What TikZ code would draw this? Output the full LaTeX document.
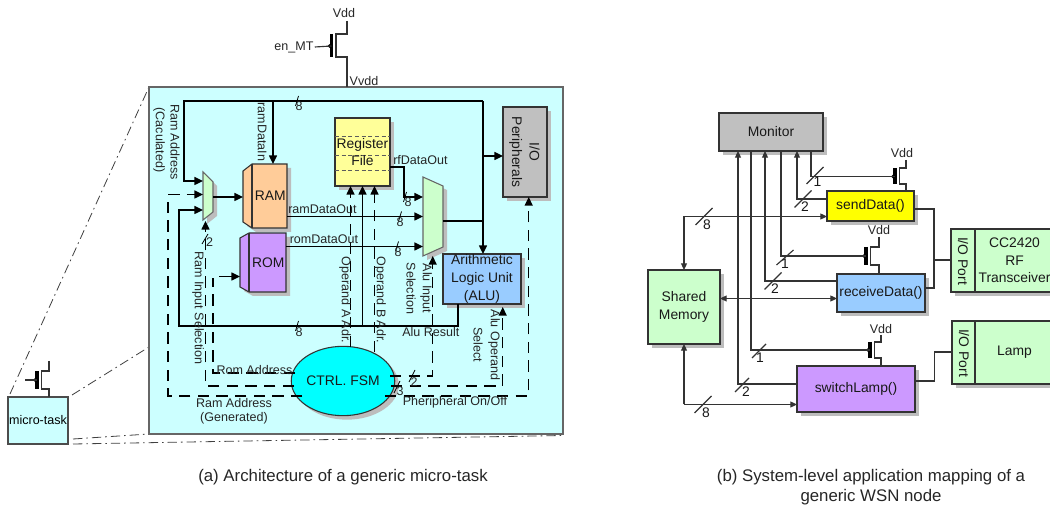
\documentclass[tikz,border=0pt]{standalone}
\usepackage{fontspec}
\setmainfont{Liberation Sans}
\usetikzlibrary{arrows.meta,calc,shapes.geometric}
\definecolor{cyanbg}{HTML}{CCFFFF}
\definecolor{fsmcyan}{HTML}{00FFFF}
\definecolor{sendy}{HTML}{FFFF00}
\definecolor{mint}{HTML}{CCFFCC}
\definecolor{peach}{HTML}{FFCC99}
\definecolor{lilac}{HTML}{CC99FF}
\definecolor{skyb}{HTML}{99CCFF}
\definecolor{paley}{HTML}{FFFF99}
\definecolor{silver}{HTML}{C0C0C0}
\definecolor{shad}{HTML}{BDBDBD}
\definecolor{edge}{HTML}{333333}
\tikzset{
  x=0.75pt,y=-0.75pt,
  shadowed/.style={preaction={draw=none,fill=shad,transform canvas={shift={(3pt,-3pt)}}}},
  blockbox/.style={draw=edge,line width=0.8pt,shadowed},
  lab/.style={font=\fontsize{9.4}{12}\selectfont,inner sep=0pt,text=black!85},
  comp/.style={font=\fontsize{10.4}{13.2}\selectfont,inner sep=0pt,text=black!90},
  captext/.style={font=\fontsize{12.6}{15}\selectfont,inner sep=0pt,align=center,text=black!85},
  down/.style={rotate=-90},
  bus/.style={draw=black,line width=1.05pt},
  busa/.style={bus,-{Triangle[length=6.5pt,width=6pt]}},
  ctl/.style={draw=black,line width=1.05pt,dash pattern=on 8.5pt off 5.5pt},
  ctla/.style={ctl,-{Triangle[length=6.5pt,width=6pt]}},
  wire/.style={draw=edge,line width=0.85pt},
  wirea/.style={wire,-{Triangle[length=5pt,width=4.5pt]}},
  wireb/.style={wire,{Triangle[length=5pt,width=4.5pt]}-{Triangle[length=5pt,width=4.5pt]}},
  zoomline/.style={draw=black!75,line width=0.6pt,dash pattern=on 7pt off 3pt on 1.2pt off 3pt},
}
\newcommand\bx[7]{\pgfmathsetmacro\bw{(#4-#2)*0.75}\pgfmathsetmacro\bh{(#5-#3)*0.75}%
  \node[#6,minimum width=\bw pt,minimum height=\bh pt,inner sep=0pt,outer sep=0pt,align=center,anchor=north west] (#1) at (#2,#3) {#7};}
\newcommand\tickmark[4]{\draw[#4] ($(#1,#2)+(#3)$) -- ($(#1,#2)-(#3)$);}
% name, bar x, top y, bottom y, drain x, top end y, bottom end y, gate start x, gate y
\newcommand\mosfet[9]{%
  \pgfmathsetmacro\cx{#2+4.5}%
  \coordinate (#1-t) at (#5,#6);\coordinate (#1-b) at (#5,#7);\coordinate (#1-g) at (#2,#9);
  \draw[wire] (#1-t) -- (#5,#3) -- (\cx,#3) -- (\cx,#4) -- (#5,#4) -- (#1-b);
  \draw[draw=black,line width=2.8pt] (#2,#3) -- (#2,#4);
  \fill[black] (#2-2,#9) circle (1.9);
  }
\begin{document}
\begin{tikzpicture}
\useasboundingbox (0,0) rectangle (1050,509);
\fill[white] (0,0) rectangle (1050,509);

%% ---------- zoom lines
\coordinate (z1a) at (10,394); \coordinate (z1b) at (149,87);
\coordinate (z2a) at (72,395); \coordinate (z2b) at (149,347);
\coordinate (z3a) at (73,439); \coordinate (z3b) at (149,434);
\coordinate (z4a) at (73,444); \coordinate (z4b) at (563,435.5);
\draw[zoomline] (z1a) -- (z1b);
\draw[zoomline] (z2a) -- (z2b);
\draw[zoomline] (z3a) -- (z3b);
\draw[zoomline] (z4a) -- (z4b);

%% ---------- main panel
\bx{panel}{149}{87}{563}{434}{draw=black!60,line width=1.2pt,fill=cyanbg}{}

%% micro-task icon
\bx{mt}{8}{397}{68}{444}{draw=black!70,line width=0.9pt,fill=cyanbg,font=\fontsize{9.4}{12}\selectfont}{micro-task}
\mosfet{mtq}{37}{371}{389}{49}{361}{397}{25}{380}
\coordinate (mtgate) at (25,380);
\draw[wire] (mtgate) -- (mtq-g);

%% top transistor
\node[lab] (vddtop) at (344,13) {Vdd};
\node[lab] (enmt) at (294,47) {en\_MT};
\mosfet{topq}{331.5}{34}{57}{347}{21}{87}{316}{46}
\draw[wire] (enmt.east) ++(1,0) -- (topq-g);
\node[lab] (vvdd) at (364,81) {Vvdd};

%% blocks
\filldraw[draw=edge,line width=0.8pt,fill=peach,shadowed] (243,171)--(252,164)--(287,164)--(287,228)--(252,228)--(243,222)--cycle;
\draw[draw=edge,line width=0.8pt] (252,164)--(252,228);
\bx{ram}{243}{164}{287}{228}{comp}{\hspace*{8pt}RAM}
\filldraw[draw=edge,line width=0.8pt,fill=lilac,shadowed] (240,238)--(249,233)--(286,233)--(286,292)--(249,292)--(240,287)--cycle;
\draw[draw=edge,line width=0.8pt] (249,233)--(249,292);
\bx{rom}{240}{233}{286}{292}{comp}{\hspace*{8pt}ROM}
\bx{regf}{335}{118}{390}{186}{blockbox,fill=paley}{}
\draw[edge!80,densely dashed,line width=0.5pt] (regf.west |- 0,136) -- (regf.east |- 0,136);
\draw[edge!80,densely dashed,line width=0.5pt] (regf.west |- 0,155) -- (regf.east |- 0,155);
\draw[edge!80,densely dashed,line width=0.5pt] (regf.west |- 0,170) -- (regf.east |- 0,170);
\node[comp,align=center] (regt) at (362.5,152) {Register\\File};
\filldraw[draw=black!60,line width=0.8pt,fill=mint,shadowed] (423,177)--(443,186)--(443,247)--(423,256)--cycle;
\coordinate (alumuxw) at (423,216);
\coordinate (alumuxe) at (443,221);
\coordinate (alumuxs) at (433,252);
\filldraw[draw=black!60,line width=0.8pt,fill=mint,shadowed] (203,172)--(213,182)--(213,212)--(203,220)--cycle;
\coordinate (inmuxw) at (203,196);
\coordinate (inmuxe) at (213,197);
\coordinate (inmuxs) at (206,218);
\bx{alu}{443}{254}{521}{304}{blockbox,fill=skyb,comp}{Arithmetic\\Logic Unit\\(ALU)}
\bx{iop}{503}{107}{547}{197}{blockbox,fill=silver}{}
\node[comp,down,align=center] (iopt) at (524.5,152) {I/O\\Peripherals};
\node[ellipse,draw=edge,line width=0.8pt,fill=fsmcyan,shadowed,minimum width=75pt,minimum height=52pt,inner sep=0pt,outer sep=0pt,comp] (fsm) at (343,381) {CTRL. FSM};

%% solid buses
\coordinate (busTL) at (184,101);
\coordinate (busTR) at (483,101);
\draw[busa] (busTR) -- (busTL) -- (184,181) -- (inmuxw |- 0,181);
\draw[busa] (busTR) -- (alu.north -| busTR);
\draw[busa] (483,156) -- (iop.west |- 0,156);
\draw[busa] (ram.north -| 273,0) ++(0,-63) -- (ram.north -| 273,0);
\draw[bus] (alumuxe) -- (483,221);
\draw[busa] (inmuxe) -- (ram.west |- 0,197);
\coordinate (resb) at (458,326);
\draw[busa] (alu.south -| resb) -- (resb) -- (179,326) -- (179,210) -- (inmuxw |- 0,210);
\draw[busa] (362.5,326) -- (regf.south -| 362.5,0);
\draw[busa] (regf.east |- 0,167) -- (404,167) -- (404,197) -- (alumuxw |- 0,197);
\draw[busa] (ram.east |- 0,216.5) -- (alumuxw |- 0,216.5);
\draw[busa] (rom.east |- 0,246.5) -- (alumuxw |- 0,246.5);
\draw[busa] (219,276.5) -- (rom.west |- 0,276.5);

%% control (dashed)
\draw[ctla] (fsm.west |- 0,396) ++(11,0) -- (168,396) -- (168,194.5) -- (inmuxw |- 0,194.5);
\draw[ctla] (294,386) -- (205.5,386) -- (205.5,221);
\draw[ctl] (295,373) -- (213,373) -- (213,278);
\draw[ctla] (350.5,347) -- (regf.south -| 350.5,0);
\draw[ctla] (374.5,352) -- (regf.south -| 374.5,0);
\draw[ctla] (390,376) -- (432.7,376) -- (432.7,256);
\draw[ctla] (391,386) -- (502.7,386) -- (502.7,307);
\draw[ctla] (385,396) -- (528.7,396) -- (iop.south -| 528.7,0);

%% ticks
\tickmark{297}{101}{1.5,-5}{bus,line width=0.6pt}
\tickmark{297}{326}{1.5,-5}{bus,line width=0.6pt}
\tickmark{405}{197}{1.5,-5}{bus,line width=0.6pt}
\tickmark{400}{216.5}{1.5,-5}{bus,line width=0.6pt}
\tickmark{397}{246.5}{1.5,-5}{bus,line width=0.6pt}
\tickmark{205}{239}{3,-5}{bus,line width=0.6pt}
\tickmark{412}{376}{3,-6}{bus,line width=0.6pt}
\tickmark{397}{387}{3,-6}{bus,line width=0.6pt}
\node[lab] (n8a) at (299,106.5) {8};
\node[lab] (n8b) at (299,332) {8};
\node[lab] (n8c) at (408,202) {8};
\node[lab] (n8d) at (400,222) {8};
\node[lab] (n8e) at (398,252) {8};
\node[lab] (n2a) at (209.5,242) {2};
\node[lab] (n2b) at (414,382) {2};
\node[lab] (n3a) at (400,391.5) {3};

%% left panel labels
\node[lab,down] (l1) at (175,142) {Ram Address};
\node[lab,down] (l2) at (159,140) {(Caculated)};
\node[lab,down] (l3) at (262,132) {ramDataIn};
\node[lab,anchor=west] (l4) at (393,160) {rfDataOut};
\node[lab,anchor=west] (l5) at (288,209) {ramDataOut};
\node[lab,anchor=west] (l6) at (289.5,239.5) {romDataOut};
\node[lab,down] (l7) at (198,308) {Ram Input Selection};
\node[lab,down] (l8) at (345,300) {Operand A Adr.};
\node[lab,down] (l9) at (380,300) {Operand B Adr.};
\node[lab,down] (l10) at (426,288.5) {Alu Input};
\node[lab,down] (l11) at (411,288.5) {Selection};
\node[lab,anchor=west] (l12) at (402,332.5) {Alu Result};
\node[lab,down] (l13) at (494,345) {Alu Operand};
\node[lab,down] (l14) at (478,345) {Select};
\node[lab] (l15) at (254.5,370) {Rom Address};
\node[lab] (l16) at (234,403) {Ram Address};
\node[lab] (l17) at (234,418) {(Generated)};
\node[lab] (l18) at (455,402) {Pheripheral On/Off};

%% ---------- right panel
\bx{mon}{719}{113}{823}{151}{blockbox,fill=silver,comp}{Monitor}
\bx{send}{827}{191}{914}{221}{blockbox,fill=sendy,comp}{sendData()}
\bx{recv}{837}{274}{925}{312}{blockbox,fill=skyb,comp}{receiveData()}
\bx{lamp}{797}{366}{915}{412}{blockbox,fill=lilac,comp}{switchLamp()}
\bx{shm}{648}{270}{720}{344}{blockbox,fill=mint,comp}{Shared\\Memory}
\bx{port1}{951}{229}{975}{292}{blockbox,fill=mint}{}
\bx{rf}{975}{229}{1054}{292}{blockbox,fill=mint,comp}{CC2420\\RF\\Transceiver}
\node[comp,down] (port1t) at (963,261) {I/O Port};
\bx{port2}{952}{321}{975}{384}{blockbox,fill=mint}{}
\bx{lmp}{975}{321}{1054}{384}{blockbox,fill=mint,comp}{Lamp}
\node[comp,down] (port2t) at (964,353) {I/O Port};

%% sleep transistors
\node[lab] (vdd1) at (902,153) {Vdd};
\mosfet{q1}{895}{168}{184}{906}{160}{191}{880}{176.5}
\node[lab] (vdd2) at (879,230) {Vdd};
\mosfet{q2}{866}{247}{265}{879}{237}{274}{850}{256}
\node[lab] (vdd3) at (881,329) {Vdd};
\mosfet{q3}{870}{342}{358}{881}{335}{366}{850}{350}

%% monitor connections
\draw[wire] (mon.south -| 811,0) -- (811,176.5) -- (q1-g);
\draw[wirea] (send.west |- 0,199) -- (797,199) -- (mon.south -| 797,0);
\draw[wire] (mon.south -| 781,0) -- (781,256) -- (q2-g);
\draw[wirea] (recv.west |- 0,281) -- (765,281) -- (mon.south -| 765,0);
\draw[wire] (mon.south -| 751,0) -- (751,350) -- (q3-g);
\draw[wirea] (lamp.west |- 0,384) -- (738,384) -- (mon.south -| 738,0);
%% memory connections
\coordinate (memA) at (684,216.5);
\draw[wirea] (memA) -- (send.west |- memA);
\draw[wirea] (memA) -- (shm.north -| memA);
\draw[wireb] (shm.east |- 0,298.5) -- (recv.west |- 0,298.5);
\coordinate (memB) at (684,404.5);
\draw[wirea] (memB) -- (shm.south -| memB);
\draw[wirea] (memB) -- (lamp.west |- memB);
%% port wiring
\coordinate (pj) at (934,260);
\draw[wire] (send.east |- 0,209) -- (934,209) -- (934,288) -- (recv.east |- 0,288);
\draw[wire] (pj) -- (port1.west |- pj);
\draw[wire] (lamp.east |- 0,381) -- (934.5,381) -- (934.5,352) -- (port2.west |- 0,352);
%% ticks
\tickmark{815}{175.5}{8.5,-8.5}{wire}
\tickmark{803}{199}{8.5,-8.5}{wire}
\tickmark{704}{216.5}{8.5,-8.5}{wire}
\tickmark{785}{257.5}{8.5,-7.5}{wire}
\tickmark{773}{281}{8.5,-8.5}{wire}
\tickmark{759}{351}{7,-7}{wire}
\tickmark{742}{385}{7,-7}{wire}
\tickmark{703}{404.5}{8.5,-8.5}{wire}
\node[comp] (m1a) at (817.5,182) {1};
\node[comp] (m2a) at (805,207) {2};
\node[comp] (m8a) at (707,224.5) {8};
\node[comp] (m1b) at (785,263.5) {1};
\node[comp] (m2b) at (775,288.5) {2};
\node[comp] (m1c) at (760,358) {1};
\node[comp] (m2c) at (746,392) {2};
\node[comp] (m8b) at (706,412.5) {8};

%% captions
\node[captext] (capa) at (343,477) {(a) Architecture of a generic micro-task};
\node[captext] (capb) at (871,487) {(b) System-level application mapping of a\\generic WSN node};
\end{tikzpicture}
\end{document}
